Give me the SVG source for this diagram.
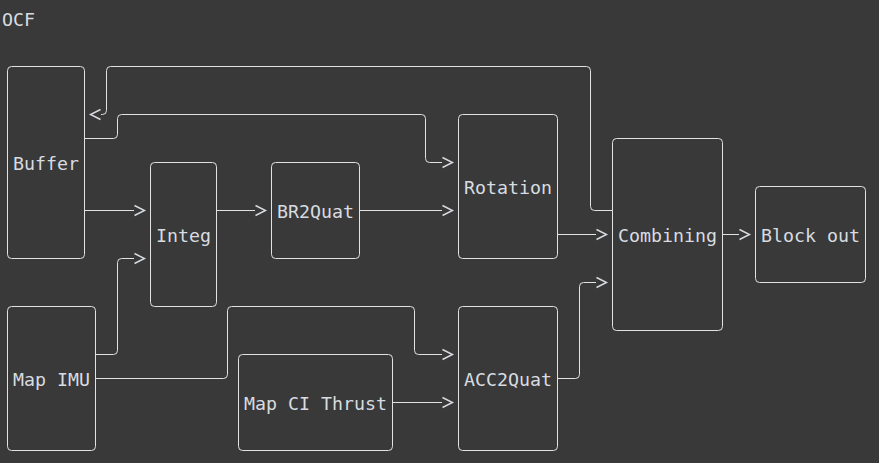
<svg xmlns="http://www.w3.org/2000/svg" width="879" height="463" viewBox="0 0 879 463">
<style>
.bg{fill:#393939}
.box{fill:none;stroke:#e2e2e2;stroke-width:1}
.lbl{font-family:"DejaVu Sans Mono","Liberation Mono",monospace;font-size:18.27px;fill:#d8dce0}
.edge{fill:none;stroke:#e2e2e2;stroke-width:1;marker-end:url(#chev)}
</style>
<defs>
<marker id="chev" markerUnits="userSpaceOnUse" orient="auto" markerWidth="14" markerHeight="14" refX="0" refY="7" overflow="visible">
<path d="M0.5,2 L10.5,7 L0.5,12" fill="none" stroke="#d8dce0" stroke-width="1.4"/>
</marker>
</defs>
<rect class="bg" x="0" y="0" width="879" height="463"/>
<text class="lbl" x="2" y="25.5">OCF</text>
<g id="connectors">
<path class="edge" d="M84.5,210.5 H134"/>
<path class="edge" d="M95.5,354.5 H113.5 Q117.5,354.5 117.5,350.5 V262.5 Q117.5,258.5 121.5,258.5 H134"/>
<path class="edge" d="M216.5,210.5 H255"/>
<path class="edge" d="M359.5,210.5 H442"/>
<path class="edge" d="M84.5,138.5 H113.5 Q117.5,138.5 117.5,134.5 V118.5 Q117.5,114.5 121.5,114.5 H421.5 Q425.5,114.5 425.5,118.5 V158.5 Q425.5,162.5 429.5,162.5 H442"/>
<path class="edge" d="M557.5,234.5 H596"/>
<path class="edge" d="M557.5,378.5 H575.5 Q579.5,378.5 579.5,374.5 V286.5 Q579.5,282.5 583.5,282.5 H596"/>
<path class="edge" d="M722.5,234.5 H739"/>
<path class="edge" d="M95.5,378.5 H223.5 Q227.5,378.5 227.5,374.5 V310.5 Q227.5,306.5 231.5,306.5 H410.5 Q414.5,306.5 414.5,310.5 V350.5 Q414.5,354.5 418.5,354.5 H442"/>
<path class="edge" d="M392.5,402.5 H442"/>
<path class="edge" d="M612.5,210.5 H594.5 Q590.5,210.5 590.5,206.5 V70.5 Q590.5,66.5 586.5,66.5 H110.5 Q106.5,66.5 106.5,70.5 V110.5 Q106.5,114.5 102.5,114.5 H101"/>
</g>
<g id="buffer"><rect class="box" x="7.5" y="66.5" width="77" height="192" rx="4"/><text class="lbl" x="13" y="169.5">Buffer</text></g>
<g id="integ"><rect class="box" x="150.5" y="162.5" width="66" height="144" rx="4"/><text class="lbl" x="156" y="241.5">Integ</text></g>
<g id="br2quat"><rect class="box" x="271.5" y="162.5" width="88" height="96" rx="4"/><text class="lbl" x="277" y="217.5">BR2Quat</text></g>
<g id="rotation"><rect class="box" x="458.5" y="114.5" width="99" height="144" rx="4"/><text class="lbl" x="464" y="193.5">Rotation</text></g>
<g id="combining"><rect class="box" x="612.5" y="138.5" width="110" height="192" rx="4"/><text class="lbl" x="618" y="241.5">Combining</text></g>
<g id="blockout"><rect class="box" x="755.5" y="186.5" width="110" height="96" rx="4"/><text class="lbl" x="761" y="241.5">Block out</text></g>
<g id="mapimu"><rect class="box" x="7.5" y="306.5" width="88" height="144" rx="4"/><text class="lbl" x="13" y="385.5">Map IMU</text></g>
<g id="mapcithrust"><rect class="box" x="238.5" y="354.5" width="154" height="96" rx="4"/><text class="lbl" x="244" y="409.5">Map CI Thrust</text></g>
<g id="acc2quat"><rect class="box" x="458.5" y="306.5" width="99" height="144" rx="4"/><text class="lbl" x="464" y="385.5">ACC2Quat</text></g>
</svg>
